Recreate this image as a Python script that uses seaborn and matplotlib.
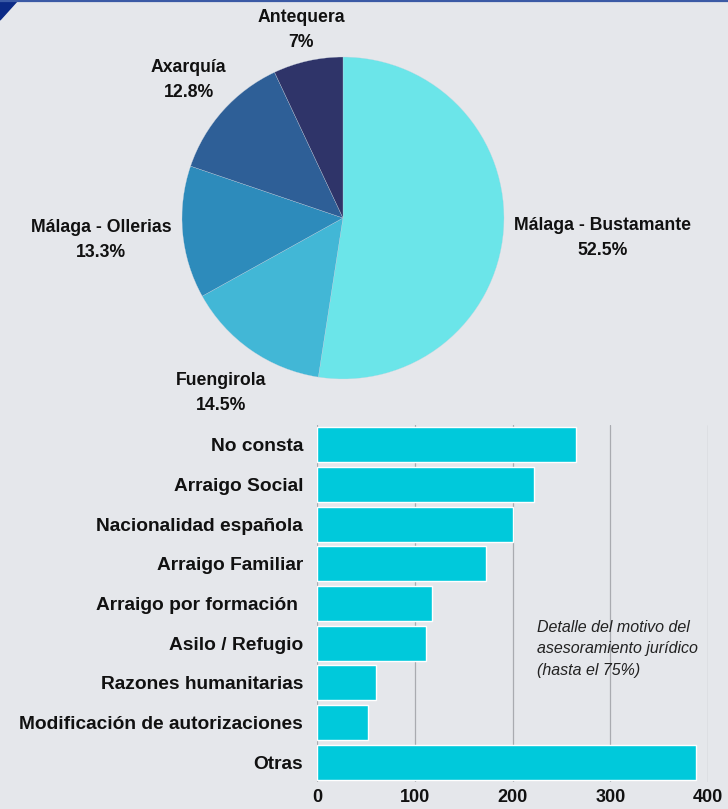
import numpy as np
import pandas as pd
import matplotlib
matplotlib.use("Agg")
import matplotlib.pyplot as plt
from matplotlib.patches import Polygon
import seaborn as sb

# data
oficinas = ["Málaga - Bustamante", "Fuengirola", "Málaga - Ollerias", "Axarquía", "Antequera"]
porcentajes = [52.5, 14.5, 13.3, 12.8, 7.0]
pct_labels = ["52.5%", "14.5%", "13.3%", "12.8%", "7%"]
pie_colors = ["#6be5e9", "#42b7d6", "#2d8bbb", "#2e5f97", "#2f3469"]

motivos = ["No consta", "Arraigo Social", "Nacionalidad española", "Arraigo Familiar",
           "Arraigo por formación ", "Asilo / Refugio", "Razones humanitarias",
           "Modificación de autorizaciones", "Otras"]
casos = [265, 222, 201, 173, 118, 112, 60, 52, 388]
x_ticks = [0, 100, 200, 300, 400]

bg = "#e5e7eb"
sb.set_theme(style="white")
plt.rcParams['font.family'] = ['Liberation Sans', 'DejaVu Sans']

fig = plt.figure(figsize=(7.28, 8.09), dpi=100, facecolor=bg)

# top border and corner triangle
fig.add_artist(plt.Line2D([0, 1], [0.999, 0.999], color="#3b5aa5", lw=1.6,
                          transform=fig.transFigure))
fig.add_artist(Polygon([[0, 1], [18 / 728, 1], [0, 1 - 20 / 809]], closed=True,
                       color="#0b2a86", transform=fig.transFigure))

# -------------------- Pie --------------------
pie_px = 322
ax1 = fig.add_axes([182 / 728, (809 - 379) / 809, pie_px / 728, pie_px / 809])
ax1.set_facecolor(bg)
wedges, _ = ax1.pie(porcentajes, colors=pie_colors, startangle=90, counterclock=False,
                    radius=1, wedgeprops=dict(linewidth=0.2, edgecolor="#c8d4e0"))
ax1.set_xlim(-1, 1)
ax1.set_ylim(-1, 1)
ax1.set_aspect('auto')
ax1.axis('off')

renderer = fig.canvas.get_renderer()
for w, name, pl in zip(wedges, oficinas, pct_labels):
    ang = np.deg2rad((w.theta1 + w.theta2) / 2)
    c, s = np.cos(ang), np.sin(ang)
    t = ax1.text(0, 0, name + "\n" + pl, ha='center', va='center', multialignment='center',
                 fontsize=12.7, fontweight='bold', color="#111111", linespacing=1.6)
    bb = t.get_window_extent(renderer)
    hw = bb.width / 2 / (pie_px / 2)
    hh = bb.height / 2 / (pie_px / 2)
    k = 0.6 if s > 0 else 1.0
    r = 1.06 + hw * abs(c) + k * hh * abs(s)
    t.set_position((r * c, r * s))

# -------------------- Bars --------------------
ax2 = fig.add_axes([317 / 728, 27 / 809, 391 / 728, 357 / 809])
ax2.set_facecolor(bg)
df = pd.DataFrame({"motivo": motivos, "casos": casos})
sb.barplot(data=df, x="casos", y="motivo", color="#00c9db", saturation=1, width=0.88, ax=ax2)
ax2.set_xlim(0, 400)
ax2.set_xticks(x_ticks)
ax2.set_xlabel("")
ax2.set_ylabel("")
ax2.grid(axis='x', color="#a9abb0", lw=0.9)
ax2.set_axisbelow(True)
for sp in ax2.spines.values():
    sp.set_visible(False)
ax2.axvline(0, color="#a9abb0", lw=1.2, zorder=0.5)
ax2.tick_params(axis='y', length=0, labelsize=13.8, colors="#111111", pad=10)
ax2.tick_params(axis='x', length=0, labelsize=13, colors="#111111", pad=5)
for t in ax2.get_xticklabels() + ax2.get_yticklabels():
    t.set_fontweight('bold')

ax2.text(0.563, 0.455, "Detalle del motivo del\nasesoramiento jurídico\n(hasta el 75%)",
         transform=ax2.transAxes, ha='left', va='top', fontsize=11.5, style='italic',
         color="#222222", linespacing=1.55)

fig.savefig("out.png", dpi=100, facecolor=bg)
